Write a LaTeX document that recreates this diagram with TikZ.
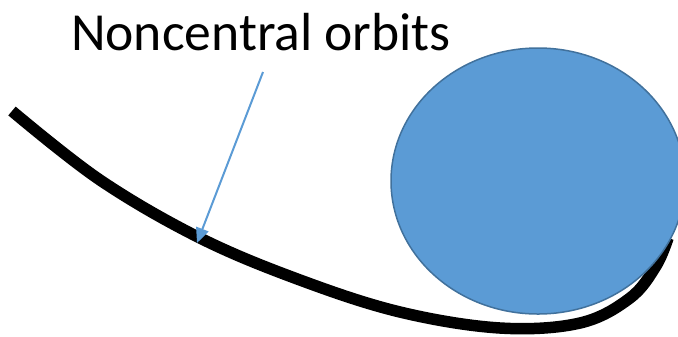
\documentclass[tikz,border=0pt]{standalone}
\usepackage{fontspec}
\setmainfont{Carlito}
\usetikzlibrary{arrows.meta}
\definecolor{planetblue}{HTML}{5B9BD5}
\definecolor{planetedge}{HTML}{41719C}
\tikzset{
  orbit/.style={black, line width=0.23cm},
  pointer/.style={planetblue, line width=0.04cm, -{Triangle[length=0.3cm,width=0.26cm]}},
}
\begin{document}
\begin{tikzpicture}[x=0.02cm, y=-0.02cm]
  \useasboundingbox (0,0) rectangle (678,336);
  % orbit passing under the body
  \draw[orbit] plot[smooth, tension=0.6]
    coordinates {(12,111) (100,180) (200,238) (300,280) (400,312) (500,328)
                 (580,323) (630,298) (656,266) (668,238)};
  % body
  \draw[fill=planetblue, draw=planetedge, line width=0.03cm]
    (538,181) ellipse (147 and 133);
  \node[anchor=base] (label) at (261,50) {\fontsize{30.5pt}{36pt}\selectfont Noncentral orbits};
  \coordinate (tail) at (263,72);
  \coordinate (tip) at (197,243);
  \draw[pointer] (tail) -- (tip);
\end{tikzpicture}
\end{document}
